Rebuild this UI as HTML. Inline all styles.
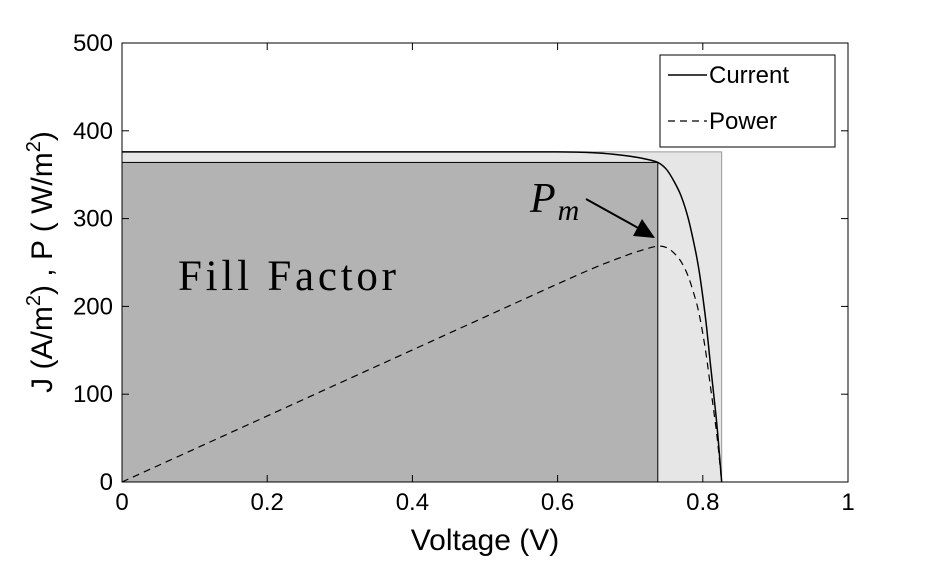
<!DOCTYPE html>
<html><head><meta charset="utf-8"><style>
body{margin:0;background:#fff}
svg text{font-family:"Liberation Sans",sans-serif}
</style></head><body>
<svg width="936" height="556" viewBox="0 0 936 556">
<g id="plot"></g>
</svg>
<script>
const voltage=[0,0.1,0.2,0.3,0.4,0.5,0.6,0.65,0.68,0.7,0.72,0.738,0.75,0.76,0.77,0.78,0.79,0.795,0.8,0.805,0.81,0.815,0.82,0.826];
const current=[376,376,376,376,376,376,376,375,373,371,368,364,356,343,326,300,263,240,211,178,138,100,60,0];
const power=[0,37.6,75.2,112.8,150.4,188,225.6,243.8,253.6,259.7,265,268.6,267,261,251,234,208,191,169,143,112,81.5,49,0];
const xTicks=[0,0.2,0.4,0.6,0.8,1];
const xTickLabels=["0","0.2","0.4","0.6","0.8","1"];
const yTicks=[0,100,200,300,400,500];
const vm=0.738, jm=364, voc=0.826, jsc=376;
const X=v=>122+726*v, Y=j=>482-0.878*j;
const NS="http://www.w3.org/2000/svg";
const g=document.getElementById('plot');
function mk(t,a,txt){const e=document.createElementNS(NS,t);for(const k in a)e.setAttribute(k,a[k]);if(txt!==undefined)e.textContent=txt;g.appendChild(e);return e;}
function smooth(xs,ys){
 const p=xs.map((v,i)=>[X(v),Y(ys[i])]);
 let d='M'+p[0][0]+','+p[0][1];
 for(let i=0;i<p.length-1;i++){
  const p0=p[Math.max(0,i-1)],p1=p[i],p2=p[i+1],p3=p[Math.min(p.length-1,i+2)];
  const c1=[p1[0]+(p2[0]-p0[0])/6,p1[1]+(p2[1]-p0[1])/6];
  const c2=[p2[0]-(p3[0]-p1[0])/6,p2[1]-(p3[1]-p1[1])/6];
  d+='C'+c1[0]+','+c1[1]+' '+c2[0]+','+c2[1]+' '+p2[0]+','+p2[1];
 }
 return d;
}
let e;
e=mk('rect',{x:X(0),y:Y(jsc),width:X(voc)-X(0),height:Y(0)-Y(jsc),fill:'#e6e6e6',stroke:'#999','stroke-width':1});


e=mk('rect',{x:X(0),y:Y(jm),width:X(vm)-X(0),height:Y(0)-Y(jm),fill:'#b3b3b3',stroke:'#000','stroke-width':1});


e=mk('path',{d:smooth(voltage,current),fill:'none',stroke:'#000','stroke-width':1.5});


e=mk('path',{d:smooth(voltage,power),fill:'none',stroke:'#000','stroke-width':1.2,'stroke-dasharray':'7,5'});


e=mk('rect',{x:122,y:43,width:726,height:439,fill:'none',stroke:'#000','stroke-width':1});


xTicks.forEach((t,i)=>{
 mk('line',{x1:X(t),x2:X(t),y1:482,y2:475,stroke:'#000'});
 mk('line',{x1:X(t),x2:X(t),y1:43,y2:50,stroke:'#000'});
 e=mk('text',{x:X(t),y:510,'text-anchor':'middle','font-size':24},xTickLabels[i]);
 
 
});
yTicks.forEach(t=>{
 mk('line',{x1:122,x2:129,y1:Y(t),y2:Y(t),stroke:'#000'});
 mk('line',{x1:848,x2:841,y1:Y(t),y2:Y(t),stroke:'#000'});
 e=mk('text',{x:113,y:Y(t)+8,'text-anchor':'end','font-size':24},String(t));
 
 
});
e=mk('text',{x:485,y:550,'text-anchor':'middle','font-size':30},'Voltage (V)');


e=mk('text',{transform:'translate(52,262) rotate(-90)','text-anchor':'middle','font-size':30});


e.innerHTML='J (A/m<tspan dy="-12" font-size="20">2</tspan><tspan dy="12">) , P ( W/m</tspan><tspan dy="-12" font-size="20">2</tspan><tspan dy="12">)</tspan>';
e=mk('text',{x:178,y:290,'font-size':43,textLength:218,lengthAdjust:'spacing',style:'font-family:"Liberation Serif",serif'},'Fill Factor');


e=mk('text',{x:530,y:212,'font-size':42,'font-style':'italic',style:'font-family:"Liberation Serif",serif'});
e.innerHTML='P<tspan dx="2" dy="8" font-size="30">m</tspan>';


e=mk('line',{x1:586,y1:199,x2:640,y2:229,stroke:'#000','stroke-width':2});


e=mk('polygon',{points:'655,238 633,236 642,219',fill:'#000'});


e=mk('rect',{x:660,y:55,width:175,height:92,fill:'#fff',stroke:'#000'});


e=mk('line',{x1:668,x2:707,y1:75,y2:75,stroke:'#000','stroke-width':1.5});


e=mk('text',{x:709,y:83,'font-size':24},'Current');


e=mk('line',{x1:668,x2:707,y1:121,y2:121,stroke:'#000','stroke-width':1.2,'stroke-dasharray':'7,5'});


e=mk('text',{x:709,y:129,'font-size':24},'Power');


</script>
</body></html>
